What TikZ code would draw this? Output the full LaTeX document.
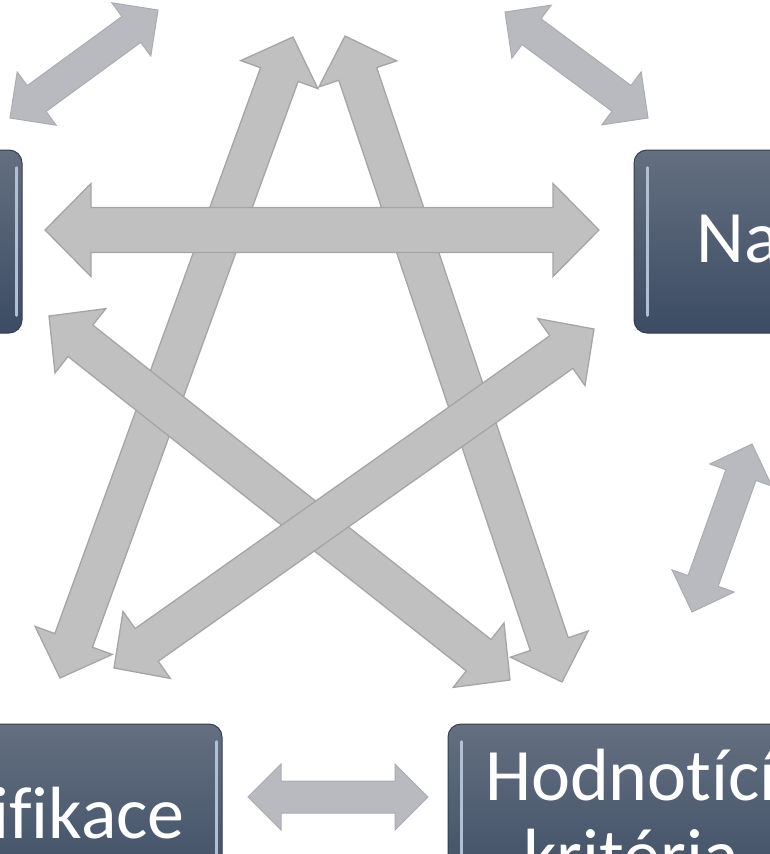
\documentclass[tikz,border=0pt]{standalone}
\usepackage{fontspec}
\setmainfont{Carlito}[Ligatures=NoCommon]
\usetikzlibrary{calc}
\definecolor{boxtop}{RGB}{100,111,128}
\definecolor{boxmid}{RGB}{74,89,112}
\definecolor{boxbot}{RGB}{60,76,100}
\definecolor{boxedge}{RGB}{52,62,80}
\definecolor{glint}{RGB}{178,192,212}
\definecolor{arrowfill}{RGB}{192,192,192}
\definecolor{arrowedge}{RGB}{165,165,165}
\definecolor{smallfill}{RGB}{184,186,192}
\definecolor{smalledge}{RGB}{170,172,178}

\newcommand\dblarrow[6]{%
\path ($(#2)!#6!(#3)$) coordinate (h1) ($(#3)!#6!(#2)$) coordinate (h2);
\draw[#1] (#2) -- ($(h1)!#5!90:(#3)$) -- ($(h1)!#4!90:(#3)$) -- ($(h2)!#4!-90:(#2)$) -- ($(h2)!#5!-90:(#2)$) -- (#3)
 -- ($(h2)!#5!90:(#2)$) -- ($(h2)!#4!90:(#2)$) -- ($(h1)!#4!-90:(#3)$) -- ($(h1)!#5!-90:(#3)$) -- cycle;}

\begin{document}
\begin{tikzpicture}[x=1pt,y=-1pt,
 box/.style={rounded corners=13pt,top color=boxtop,middle color=boxmid,bottom color=boxbot,draw=boxedge,line width=1pt,minimum width=366pt,minimum height=183pt,inner sep=0pt},
 shine/.style={draw=glint,line width=2.5pt,line cap=round},
 boxtext/.style={text=white,font=\fontsize{74}{80}\selectfont,inner sep=0pt},
 bigarrow/.style={fill=arrowfill,draw=arrowedge,line width=1.3pt},
 smallarrow/.style={fill=smallfill,draw=smalledge,line width=1pt}]
\useasboundingbox (0,0) rectangle (770,854);
\clip (0,0) rectangle (770,854);

\node[box] (leftBox) at (-161,241.5) {};
\node[box] (naBox) at (817,241.5) {};
\node[box] (ifBox) at (39,815.5) {};
\node[box] (hodBox) at (631,815.5) {};
\foreach \b in {leftBox,naBox,ifBox,hodBox}{
 \draw[shine] ($(\b.north west)+(14,18)$) -- ($(\b.south west)+(14,-18)$);
 \draw[shine] ($(\b.north east)+(-6,18)$) -- ($(\b.south east)+(-6,-18)$);
}
\node[boxtext,anchor=base west] (naText) at (696,262) {Na};
\node[boxtext,anchor=base east] (ifText) at (185,838) {ifikace};
\node[boxtext,anchor=base] (hodText) at (631,800) {Hodnotící};
\node[boxtext,anchor=base] (kritText) at (631,880) {kritéria};

\coordinate (eL) at (45,230);
\coordinate (eR) at (599,230);
\coordinate (aT) at (293,37);
\coordinate (aB) at (60,678);
\coordinate (bT) at (345,36);
\coordinate (bB) at (562,682);
\coordinate (cT) at (49,316);
\coordinate (cB) at (510,680);
\coordinate (dT) at (594,329);
\coordinate (dB) at (114,668);
\coordinate (tlA) at (10,118);
\coordinate (tlB) at (158,10);
\coordinate (trA) at (505,12);
\coordinate (trB) at (648,118);
\coordinate (rA) at (752,444);
\coordinate (rB) at (692,612);
\coordinate (btA) at (248,797);
\coordinate (btB) at (428,797);

\foreach \s/\e in {aT/aB,bT/bB,cT/cB,dT/dB}
 \dblarrow{bigarrow}{\s}{\e}{20pt}{41pt}{40pt};
\dblarrow{bigarrow}{eL}{eR}{22.5pt}{46.5pt}{46pt}
\foreach \s/\e in {tlA/tlB,trA/trB,rA/rB,btA/btB}
 \dblarrow{smallarrow}{\s}{\e}{16pt}{33pt}{33pt};
\end{tikzpicture}
\end{document}
